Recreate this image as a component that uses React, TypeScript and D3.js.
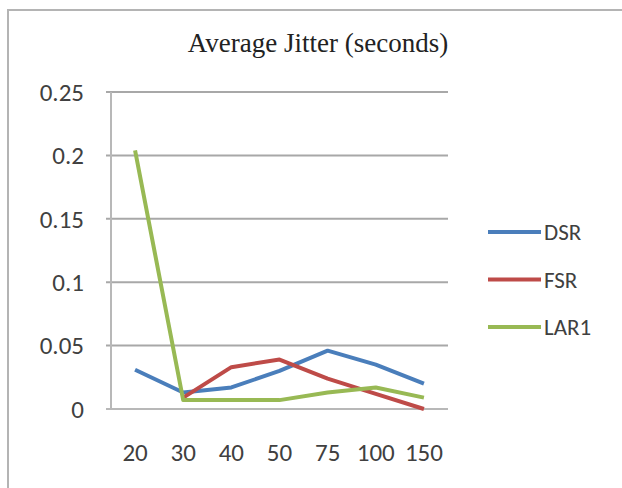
import * as d3 from "d3"

const categories = ["20", "30", "40", "50", "75", "100", "150"]
const dsr = [0.031, 0.013, 0.017, 0.03, 0.046, 0.035, 0.02]
const fsr = [null, 0.009, 0.033, 0.039, 0.024, 0.012, 0.0]
const lar1 = [0.204, 0.007, 0.007, 0.007, 0.013, 0.017, 0.009]
const yTicks = [0, 0.05, 0.1, 0.15, 0.2, 0.25]
const yTickLabels = ["0", "0.05", "0.1", "0.15", "0.2", "0.25"]

const seriesList = [
  { name: "DSR", values: dsr, color: "#4a7ebb" },
  { name: "FSR", values: fsr, color: "#be4b48" },
  { name: "LAR1", values: lar1, color: "#98b954" },
]

const W = 622
const H = 488
const left = 111
const right = 448
const top = 92
const bottom = 409

const sansFont = "Carlito, Calibri, 'Liberation Sans', Arial, sans-serif"

export default function App() {
  const x = d3.scaleBand<string>().domain(categories).range([left, right]).padding(0)
  const y = d3.scaleLinear().domain([0, 0.25]).range([bottom, top])
  const cx = (c: string) => (x(c) ?? 0) + x.bandwidth() / 2

  const line = d3
    .line<number | null>()
    .defined((d) => d !== null)
    .x((_, i) => cx(categories[i]))
    .y((d) => y(d as number))

  return (
    <svg
      width={W}
      height={H}
      style={{ position: "absolute", left: 0, top: 0, background: "#fff" }}
    >
      {/* chart frame */}
      <rect x={8} y={10} width={700} height={600} fill="#fff" stroke="#b4b4b4" strokeWidth={2} />

      {/* title */}
      <text
        x={318}
        y={52}
        textAnchor="middle"
        fontFamily="'Liberation Serif', 'Times New Roman', serif"
        fontSize={27}
        fill="#222"
      >
        Average  Jitter (seconds)
      </text>

      {/* gridlines + y ticks */}
      {yTicks.map((t, i) => (
        <g key={t}>
          <line
            x1={left - 5}
            x2={right}
            y1={y(t)}
            y2={y(t)}
            stroke={t === 0 ? "#b8b8b8" : "#a8a8a8"}
            strokeWidth={2}
          />
          <text
            x={84}
            y={y(t)}
            dy="0.35em"
            textAnchor="end"
            fontFamily={sansFont}
            fontSize={25}
            fill="#404040"
          >
            {yTickLabels[i]}
          </text>
        </g>
      ))}
      <line x1={left} x2={left} y1={top} y2={bottom} stroke="#b8b8b8" strokeWidth={2} />

      {/* x labels */}
      {categories.map((c) => (
        <text
          key={c}
          x={cx(c)}
          y={461}
          textAnchor="middle"
          fontFamily={sansFont}
          fontSize={25}
          fill="#404040"
        >
          {c}
        </text>
      ))}

      {/* series */}
      {seriesList.map((s) => (
        <path
          key={s.name}
          d={line(s.values) ?? ""}
          fill="none"
          stroke={s.color}
          strokeWidth={4}
          strokeLinejoin="round"
        />
      ))}

      {/* legend */}
      {seriesList.map((s, i) => {
        const ly = 232 + i * 47.5
        return (
          <g key={s.name}>
            <line x1={488} x2={541} y1={ly} y2={ly} stroke={s.color} strokeWidth={4} />
            <text
              x={544}
              y={ly}
              dy="0.35em"
              fontFamily={sansFont}
              fontSize={23}
              fill="#404040"
            >
              {s.name}
            </text>
          </g>
        )
      })}
    </svg>
  )
}
